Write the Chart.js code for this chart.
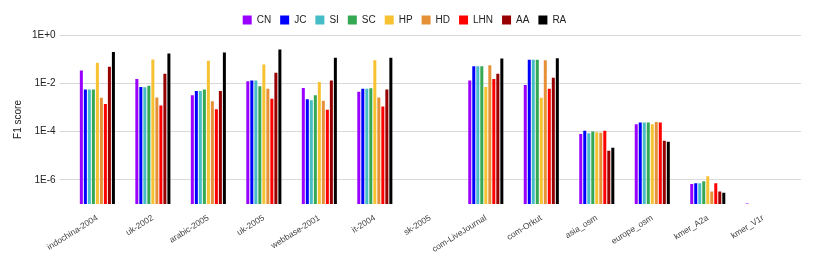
<!DOCTYPE html>
<html>
<head>
<meta charset="utf-8">
<script src="https://cdn.jsdelivr.net/npm/chart.js@4"></script>
<style>
  html, body { margin: 0; padding: 0; background: #fff; }
  #wrap { width: 814px; height: 258px; }
</style>
</head>
<body>
<div id="wrap"><canvas id="f1Chart" width="814" height="258"></canvas></div>
<script>
const graphs = ['indochina-2004', 'uk-2002', 'arabic-2005', 'uk-2005', 'webbase-2001', 'it-2004',
  'sk-2005', 'com-LiveJournal', 'com-Orkut', 'asia_osm', 'europe_osm', 'kmer_A2a', 'kmer_V1r'];

const CN  = [0.034, 0.015, 0.0032, 0.012, 0.0064, 0.0045, null, 0.013, 0.0085, 7.9e-5, 2.0e-4, 6.8e-7, 1.05e-7];
const JC  = [0.0055, 0.0071, 0.0048, 0.013, 0.0022, 0.0059, null, 0.051, 0.094, 1.07e-4, 2.37e-4, 7.3e-7, null];
const SI  = [0.0055, 0.0068, 0.0048, 0.013, 0.0020, 0.0059, null, 0.051, 0.094, 8.5e-5, 2.37e-4, 7.3e-7, null];
const SC  = [0.0055, 0.0080, 0.0055, 0.0076, 0.0032, 0.0062, null, 0.051, 0.094, 1.0e-4, 2.37e-4, 8.8e-7, null];
const HP  = [0.071, 0.097, 0.086, 0.060, 0.0114, 0.091, null, 0.0071, 0.0025, 9.4e-5, 2.0e-4, 1.42e-6, null];
const HD  = [0.0025, 0.0026, 0.0018, 0.0059, 0.0019, 0.0026, null, 0.056, 0.091, 8.9e-5, 2.5e-4, 3.3e-7, null];
const LHN = [0.0014, 0.0012, 0.00085, 0.0023, 0.0008, 0.0011, null, 0.015, 0.0059, 1.07e-4, 2.37e-4, 7.3e-7, null];
const AA  = [0.048, 0.025, 0.0048, 0.027, 0.013, 0.0055, null, 0.025, 0.017, 1.6e-5, 4.2e-5, 3.3e-7, null];
const RA  = [0.20, 0.17, 0.19, 0.25, 0.114, 0.114, null, 0.107, 0.11, 2.15e-5, 3.8e-5, 2.9e-7, null];

const yTickValues = [1, 1e-2, 1e-4, 1e-6];
const yTickLabels = ['1E+0', '1E-2', '1E-4', '1E-6'];

const series = [
  ['CN', CN, '#9900ff'],
  ['JC', JC, '#0000ff'],
  ['SI', SI, '#46bdc6'],
  ['SC', SC, '#34a853'],
  ['HP', HP, '#f6c231'],
  ['HD', HD, '#e69138'],
  ['LHN', LHN, '#ff0000'],
  ['AA', AA, '#980000'],
  ['RA', RA, '#000000']
];

Chart.defaults.font.family = '"Liberation Sans", Arial, sans-serif';
Chart.defaults.font.size = 10;
Chart.defaults.color = '#222';

function fixTicks(scale) {
  scale.ticks = yTickValues.map(v => ({ value: v }));
}

let ctx = document.getElementById('f1Chart').getContext('2d');
let f1Chart = new Chart(ctx, {
  type: 'bar',
  data: {
    labels: graphs,
    datasets: series.map(s => ({
      label: s[0],
      data: s[1],
      backgroundColor: s[2],
      borderWidth: 0,
      categoryPercentage: 0.65,
      barPercentage: 0.75,
      base: 1e-7
    }))
  },
  options: {
    responsive: false,
    animation: false,
    layout: { padding: { left: 8, right: 13, top: 6, bottom: 0 } },
    plugins: {
      legend: {
        position: 'top',
        labels: { boxWidth: 9, boxHeight: 9, padding: 9, color: '#222' }
      },
      tooltip: { enabled: false }
    },
    scales: {
      x: {
        grid: { display: false },
        border: { display: false },
        afterFit: (scale) => { scale.height = 54; },
        ticks: { autoSkip: false, minRotation: 32, maxRotation: 32, padding: 1, color: '#444', font: { size: 8.5 } }
      },
      y: {
        type: 'logarithmic',
        min: 1e-7,
        max: 1,
        afterBuildTicks: fixTicks,
        border: { display: false },
        grid: { color: '#d9d9d9', tickLength: 10, tickColor: '#d9d9d9' },
        ticks: {
          padding: 4,
          color: '#222',
          callback: (v) => yTickLabels[yTickValues.indexOf(v)]
        },
        title: { display: true, text: 'F1 score', color: '#222', font: { size: 10 } }
      },
      yRight: {
        type: 'logarithmic',
        position: 'right',
        min: 1e-7,
        max: 1,
        afterBuildTicks: fixTicks,
        border: { display: false },
        grid: { drawOnChartArea: false, tickLength: 10, tickColor: '#d9d9d9' },
        ticks: { display: false }
      }
    }
  }
});
</script>
</body>
</html>
